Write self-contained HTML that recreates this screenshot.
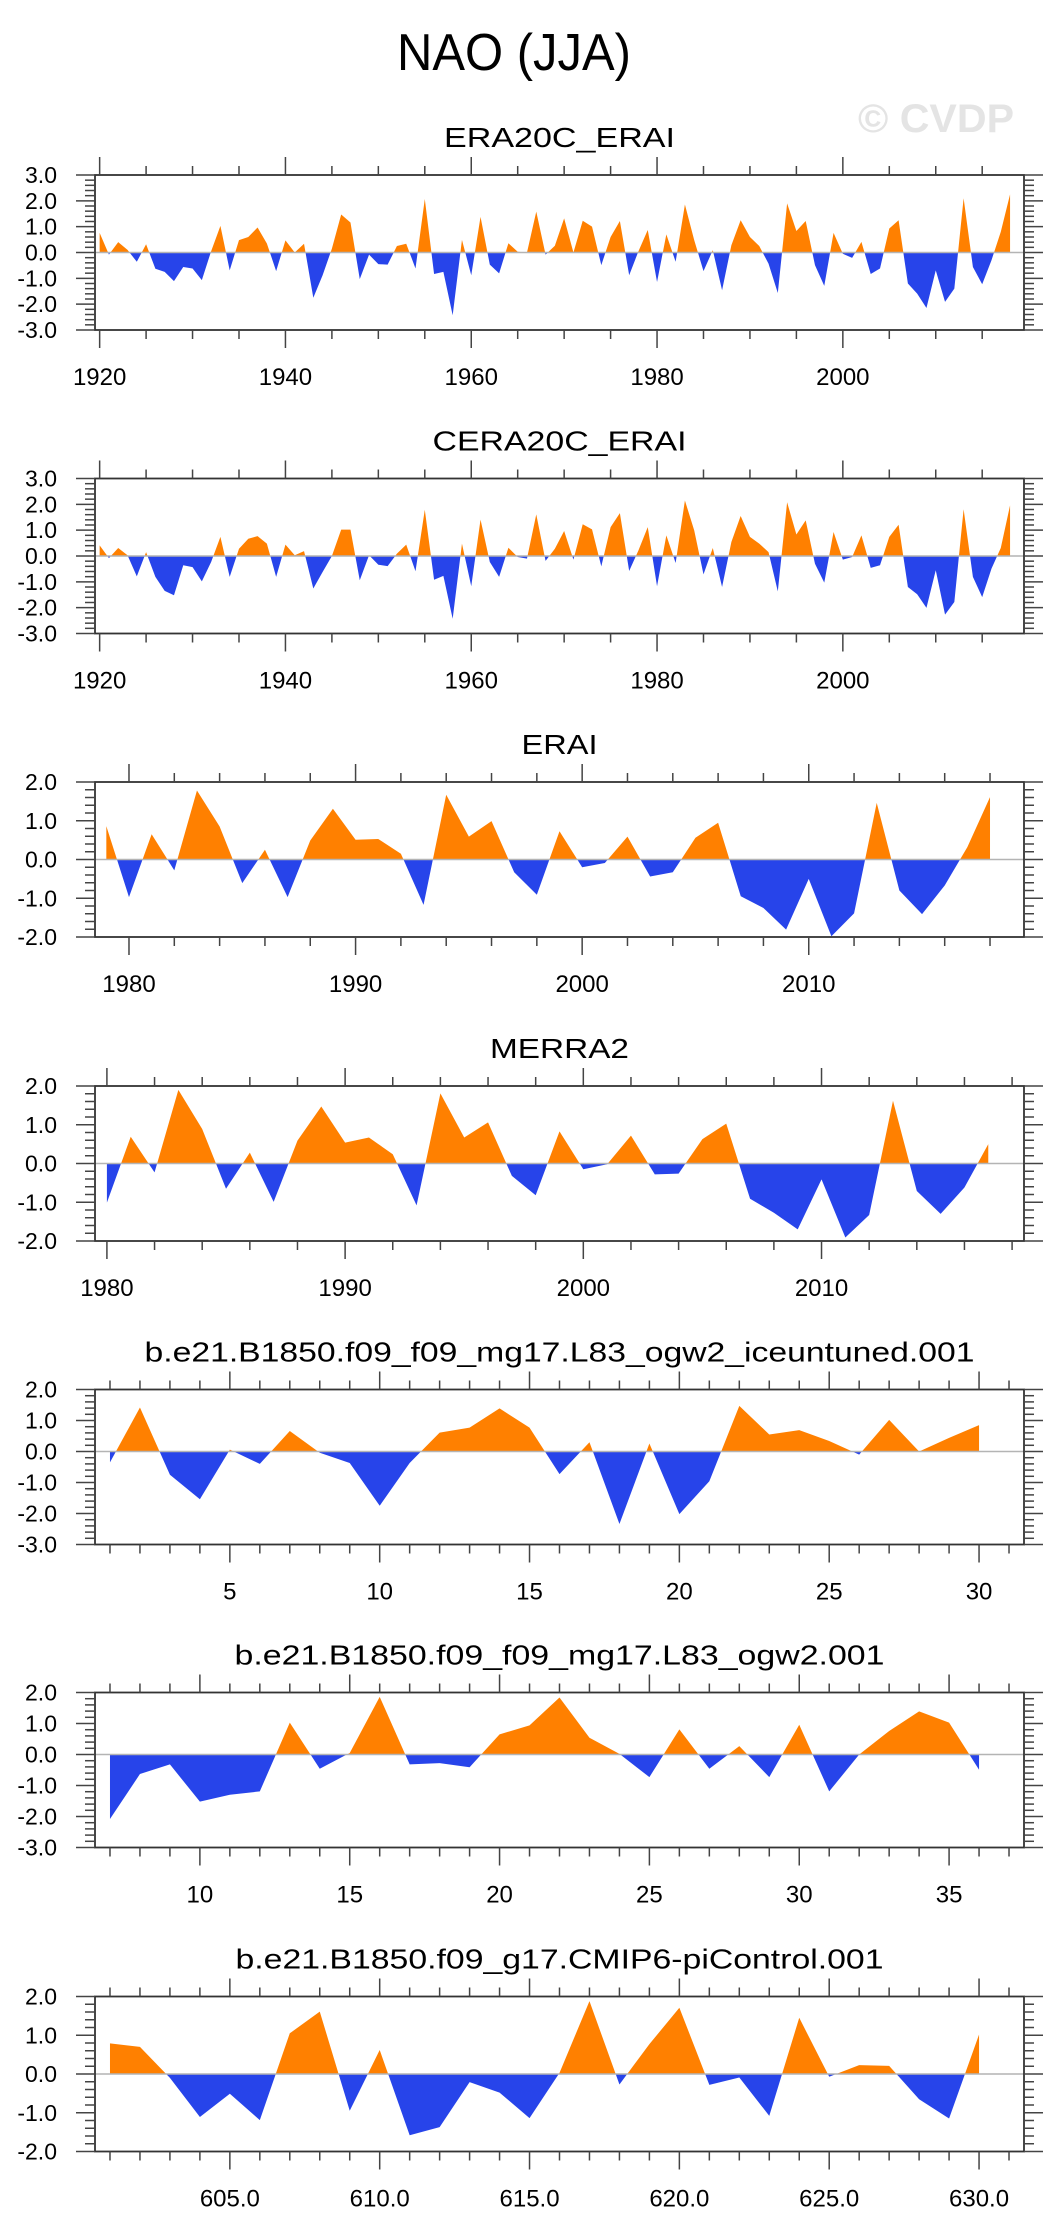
<!DOCTYPE html>
<html>
<head>
<meta charset="utf-8">
<style>
html,body{margin:0;padding:0;background:#fff;}
svg{display:block;}
text{font-family:"Liberation Sans",sans-serif;fill:#000;}
</style>
</head>
<body>
<svg id="chart" xmlns="http://www.w3.org/2000/svg" width="1058" height="2236" viewBox="0 0 1058 2236">
<rect x="0" y="0" width="1058" height="2236" fill="#fff"/>
<text x="514" y="70" font-size="52" text-anchor="middle" textLength="234" lengthAdjust="spacingAndGlyphs">NAO (JJA)</text>
<text x="936" y="132" font-size="40" font-weight="bold" text-anchor="middle" style="fill:#e4e4e4" textLength="156" lengthAdjust="spacingAndGlyphs">© CVDP</text>
</svg>
<script>
// ---------- data ----------
const p1Title = "ERA20C_ERAI";
const p1Start = 1920;
const p1Values = [0.76,-0.08,0.40,0.10,-0.36,0.32,-0.63,-0.75,-1.11,-0.56,-0.62,-1.07,0.05,1.03,-0.69,0.48,0.60,0.97,0.35,-0.72,
0.47,0.00,0.34,-1.75,-0.88,0.15,1.47,1.16,-1.03,-0.08,-0.45,-0.47,0.25,0.34,-0.62,2.07,-0.83,-0.75,-2.43,0.49,
-0.88,1.38,-0.47,-0.81,0.36,0.03,0.00,1.58,-0.08,0.26,1.32,0.00,1.23,1.00,-0.49,0.60,1.22,-0.88,0.05,0.87,
-1.14,0.70,-0.36,1.86,0.48,-0.72,0.09,-1.46,0.28,1.25,0.60,0.25,-0.43,-1.57,1.90,0.83,1.22,-0.49,-1.29,0.76,
-0.05,-0.21,0.41,-0.83,-0.62,0.93,1.25,-1.20,-1.59,-2.15,-0.69,-1.91,-1.40,2.10,-0.56,-1.23,-0.30,0.80,2.25];
const p1XTicks = ["1920","1940","1960","1980","2000"];
const p1YTicks = ["-3.0","-2.0","-1.0","0.0","1.0","2.0","3.0"];

const p2Title = "CERA20C_ERAI";
const p2Start = 1920;
const p2Values = [0.41,-0.08,0.31,0.03,-0.79,0.15,-0.81,-1.35,-1.52,-0.36,-0.43,-0.98,-0.23,0.74,-0.81,0.28,0.67,0.77,0.48,-0.81,
0.44,0.03,0.19,-1.26,-0.62,0.00,1.02,1.02,-0.94,0.03,-0.34,-0.39,0.09,0.44,-0.59,1.79,-0.92,-0.77,-2.43,0.48,
-1.17,1.41,-0.23,-0.81,0.32,-0.04,-0.10,1.61,-0.19,0.28,0.97,-0.14,1.23,1.03,-0.40,1.12,1.66,-0.58,0.22,1.12,
-1.17,0.80,-0.27,2.15,0.99,-0.71,0.31,-1.20,0.54,1.55,0.74,0.48,0.15,-1.37,2.08,0.83,1.38,-0.30,-1.03,0.93,
-0.14,-0.04,0.80,-0.46,-0.36,0.74,1.21,-1.20,-1.48,-2.01,-0.55,-2.27,-1.78,1.81,-0.81,-1.59,-0.49,0.31,1.96];
const p2XTicks = ["1920","1940","1960","1980","2000"];
const p2YTicks = ["-3.0","-2.0","-1.0","0.0","1.0","2.0","3.0"];

const p3Title = "ERAI";
const p3Start = 1979;
const p3Values = [0.86,-0.97,0.65,-0.28,1.78,0.85,-0.61,0.25,-0.97,0.49,1.31,0.51,0.53,0.15,-1.17,1.67,0.59,0.99,-0.33,-0.91,
0.73,-0.20,-0.09,0.59,-0.44,-0.33,0.56,0.95,-0.95,-1.25,-1.81,-0.50,-1.98,-1.39,1.46,-0.80,-1.41,-0.67,0.32,1.61];
const p3XTicks = ["1980","1990","2000","2010"];
const p3YTicks = ["-2.0","-1.0","0.0","1.0","2.0"];

const p4Title = "MERRA2";
const p4Start = 1980;
const p4Values = [-1.01,0.69,-0.23,1.90,0.89,-0.65,0.28,-0.99,0.59,1.47,0.54,0.67,0.24,-1.08,1.81,0.67,1.06,-0.32,-0.82,0.83,
-0.15,-0.02,0.72,-0.28,-0.26,0.63,1.03,-0.91,-1.27,-1.70,-0.41,-1.91,-1.33,1.62,-0.71,-1.30,-0.62,0.50];
const p4XTicks = ["1980","1990","2000","2010"];
const p4YTicks = ["-2.0","-1.0","0.0","1.0","2.0"];

const p5Title = "b.e21.B1850.f09_f09_mg17.L83_ogw2_iceuntuned.001";
const p5Start = 1;
const p5Values = [-0.35,1.42,-0.75,-1.54,0.06,-0.40,0.66,-0.04,-0.37,-1.75,-0.37,0.61,0.77,1.39,0.77,-0.73,0.30,-2.34,0.26,-2.02,
-0.96,1.47,0.55,0.69,0.34,-0.10,1.02,0.00,0.44,0.85];
const p5XTicks = ["5","10","15","20","25","30"];
const p5YTicks = ["-3.0","-2.0","-1.0","0.0","1.0","2.0"];

const p6Title = "b.e21.B1850.f09_f09_mg17.L83_ogw2.001";
const p6Start = 7;
const p6Values = [-2.08,-0.63,-0.32,-1.52,-1.30,-1.19,1.03,-0.46,0.05,1.86,-0.32,-0.28,-0.41,0.65,0.94,1.84,0.54,0.02,-0.73,0.81,
-0.46,0.27,-0.73,0.96,-1.19,0.00,0.76,1.39,1.03,-0.49];
const p6XTicks = ["10","15","20","25","30","35"];
const p6YTicks = ["-3.0","-2.0","-1.0","0.0","1.0","2.0"];

const p7Title = "b.e21.B1850.f09_g17.CMIP6-piControl.001";
const p7Start = 601;
const p7Values = [0.79,0.70,-0.10,-1.11,-0.51,-1.19,1.05,1.61,-0.95,0.62,-1.58,-1.37,-0.21,-0.48,-1.14,0.03,1.88,-0.27,0.77,1.71,
-0.28,-0.09,-1.08,1.45,-0.07,0.23,0.21,-0.65,-1.15,1.02];
const p7XTicks = ["605.0","610.0","615.0","620.0","625.0","630.0"];
const p7YTicks = ["-2.0","-1.0","0.0","1.0","2.0"];

// ---------- layout ----------
const panels = [
 {key:"era20c-erai", title:p1Title, start:p1Start, vals:p1Values, xt:p1XTicks, yt:p1YTicks, top:175, xmin:1919.5, xmax:2019.5, ymin:-3, ymax:3, minor:5, tw:231},
 {key:"cera20c-erai", title:p2Title, start:p2Start, vals:p2Values, xt:p2XTicks, yt:p2YTicks, top:478.5, xmin:1919.5, xmax:2019.5, ymin:-3, ymax:3, minor:5, tw:254},
 {key:"erai", title:p3Title, start:p3Start, vals:p3Values, xt:p3XTicks, yt:p3YTicks, top:782, xmin:1978.5, xmax:2019.5, ymin:-2, ymax:2, minor:2, tw:76},
 {key:"merra2", title:p4Title, start:p4Start, vals:p4Values, xt:p4XTicks, yt:p4YTicks, top:1086, xmin:1979.5, xmax:2018.5, ymin:-2, ymax:2, minor:2, tw:139},
 {key:"ogw2-iceuntuned", title:p5Title, start:p5Start, vals:p5Values, xt:p5XTicks, yt:p5YTicks, top:1389.5, xmin:0.5, xmax:31.5, ymin:-3, ymax:2, minor:1, tw:830},
 {key:"ogw2", title:p6Title, start:p6Start, vals:p6Values, xt:p6XTicks, yt:p6YTicks, top:1692.5, xmin:6.5, xmax:37.5, ymin:-3, ymax:2, minor:1, tw:650},
 {key:"cmip6-picontrol", title:p7Title, start:p7Start, vals:p7Values, xt:p7XTicks, yt:p7YTicks, top:1996.5, xmin:600.5, xmax:631.5, ymin:-2, ymax:2, minor:1, tw:648}
];
const NS = "http://www.w3.org/2000/svg";
const svg = document.getElementById("chart");
const L = 95, R = 1024, H = 155;
const ORANGE = "#ff8000", BLUE = "#2744ea";

function mk(tag, attrs, parent){
  const e = document.createElementNS(NS, tag);
  for (const k in attrs) e.setAttribute(k, attrs[k]);
  parent.appendChild(e);
  return e;
}

panels.forEach(function(p, pi){
  const g = mk("g", {}, svg);
  
  
  const T = p.top, B = p.top + H;
  const sx = v => L + (v - p.xmin) / (p.xmax - p.xmin) * (R - L);
  const sy = v => T + (p.ymax - v) / (p.ymax - p.ymin) * H;

  const t = mk("text", {x:559.5, y:T - 28, "font-size":28, "text-anchor":"middle", textLength:p.tw, lengthAdjust:"spacingAndGlyphs"}, g);
  t.textContent = p.title;
  
  

  const defs = mk("defs", {}, g);
  const y0 = sy(0);
  const cu = mk("clipPath", {id:"cu"+pi}, defs);
  mk("rect", {x:L, y:T, width:R-L, height:y0-T}, cu);
  const cd = mk("clipPath", {id:"cd"+pi}, defs);
  mk("rect", {x:L, y:y0, width:R-L, height:B-y0}, cd);

  const xs = p.vals.map((v,i) => p.start + i);
  let pts = sx(xs[0]).toFixed(2) + "," + y0.toFixed(2) + " ";
  p.vals.forEach((v,i) => { pts += sx(xs[i]).toFixed(2) + "," + sy(v).toFixed(2) + " "; });
  pts += sx(xs[xs.length-1]).toFixed(2) + "," + y0.toFixed(2);

  const pos = mk("polygon", {points:pts, fill:ORANGE, "clip-path":"url(#cu"+pi+")"}, g);
  
  
  const neg = mk("polygon", {points:pts, fill:BLUE, "clip-path":"url(#cd"+pi+")"}, g);
  
  

  const zl = mk("line", {x1:L, x2:R, y1:y0, y2:y0, stroke:"#b4b4b4", "stroke-width":1.5}, g);
  
  

  const box = mk("rect", {x:L, y:T, width:R-L, height:H, fill:"none", stroke:"#333", "stroke-width":1.8}, g);
  
  

  const majorVals = p.xt.map(s => parseFloat(s));
  const tk = mk("g", {stroke:"#444", "stroke-width":1.5}, g);
  
  
  const m0 = Math.ceil(p.xmin / p.minor) * p.minor;
  for (let v = m0; v <= p.xmax + 1e-9; v += p.minor) {
    const isMaj = majorVals.some(m => Math.abs(m - v) < 1e-6);
    const len = isMaj ? 18 : 9;
    const x = sx(v);
    mk("line", {x1:x, x2:x, y1:T, y2:T-len}, tk);
    mk("line", {x1:x, x2:x, y1:B, y2:B+len}, tk);
  }
  p.xt.forEach(s => {
    const lb = mk("text", {x:sx(parseFloat(s)), y:B + 55, "font-size":24, "text-anchor":"middle"}, g);
    lb.textContent = s;
    
    
  });

  const ty = mk("g", {stroke:"#444", "stroke-width":1.5}, g);
  
  
  const nMin = Math.round((p.ymax - p.ymin) / 0.2);
  for (let k = 0; k <= nMin; k++) {
    const v = p.ymin + k * 0.2;
    const isMaj = (k % 5 === 0);
    const len = isMaj ? 19 : 10;
    const y = sy(v);
    mk("line", {x1:L, x2:L-len, y1:y, y2:y}, ty);
    mk("line", {x1:R, x2:R+len, y1:y, y2:y}, ty);
  }
  p.yt.forEach(s => {
    const lb = mk("text", {x:57, y:sy(parseFloat(s)) + 8, "font-size":23, "text-anchor":"end"}, g);
    lb.textContent = s;
    
    
  });
});
</script>
</body>
</html>
